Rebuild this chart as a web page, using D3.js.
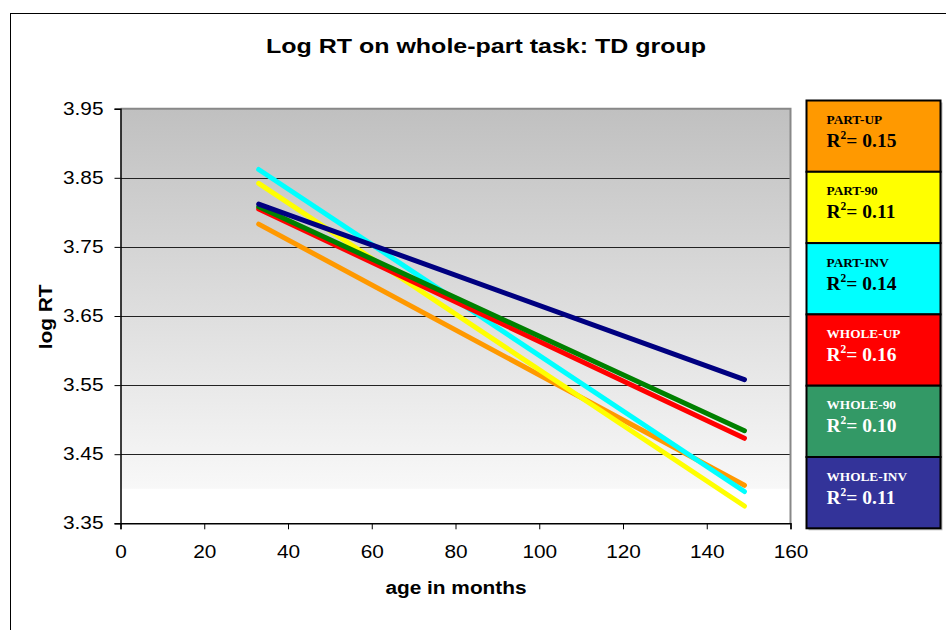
<!DOCTYPE html>
<html><head><meta charset="utf-8">
<script src="https://cdn.jsdelivr.net/npm/d3@7/dist/d3.min.js"></script>
<style>body{margin:0;background:#fff}svg{display:block}</style>
</head><body><svg id="c" width="946" height="630"></svg>
<script>
const seriesNames = ["PART-UP","PART-90","PART-INV","WHOLE-UP","WHOLE-90","WHOLE-INV"];
const r2Labels = ["0.15","0.11","0.14","0.16","0.10","0.11"];
const ageX = [33, 149];
const partUp = [3.783, 3.405];
const part90 = [3.842, 3.375];
const partInv = [3.862, 3.396];
const wholeUp = [3.805, 3.473];
const whole90 = [3.808, 3.484];
const wholeInv = [3.812, 3.558];
const lineColors = ["#FF9900","#FFFF00","#00FFFF","#FF0000","#008000","#000080"];
const legendColors = ["#FF9900","#FFFF00","#00FFFF","#FF0000","#339966","#333399"];
const legendText = ["#000","#000","#000","#fff","#fff","#fff"];
const xTicks = [0,20,40,60,80,100,120,140,160];
const yTicks = [3.35,3.45,3.55,3.65,3.75,3.85,3.95];
const seriesValues = [partUp, part90, partInv, wholeUp, whole90, wholeInv];

const svg = d3.select("#c");
const L=120.5, R=790.5, T=108.7, B=523.3;
const x = d3.scaleLinear().domain([0,160]).range([L,R]);
const y = d3.scaleLinear().domain([3.35,3.95]).range([B,T]);
const K = 1.19; // horizontal stretch of the original rendering

function stretch(sel){
  sel.each(function(){
    const w = this.getComputedTextLength();
    d3.select(this).attr("textLength", w*K).attr("lengthAdjust","spacingAndGlyphs");
  });
}

// outer border
svg.append("rect").attr("x",10.5).attr("y",13.5).attr("width",1000).attr("height",700)
  .attr("fill","none").attr("stroke","#000").attr("stroke-width",1);

// gradient
const defs = svg.append("defs");
const g = defs.append("linearGradient").attr("id","bg").attr("x1",0).attr("y1",0).attr("x2",0).attr("y2",1);
g.append("stop").attr("offset","0%").attr("stop-color","#c0c0c0");
g.append("stop").attr("offset","100%").attr("stop-color","#f8f8f8");
svg.append("rect").attr("x",L).attr("y",T).attr("width",R-L).attr("height",B-T).attr("fill","#fff");
svg.append("rect").attr("x",L).attr("y",T).attr("width",R-L).attr("height",y(3.40)-T).attr("fill","url(#bg)");

// gridlines
svg.append("g").selectAll("line").data(yTicks.filter(v=>v>3.36 && v<3.94)).join("line")
  .attr("x1",L).attr("x2",R).attr("y1",d=>Math.round(y(d))+0.5).attr("y2",d=>Math.round(y(d))+0.5)
  .attr("stroke","#222").attr("stroke-width",1.2);

// plot border top/right
svg.append("path").attr("d",`M${L},${T}H${R}V${B}`).attr("fill","none").attr("stroke","#888").attr("stroke-width",2);

// axes
const fontAx = "'Liberation Sans', Arial, sans-serif";
const yAxis = svg.append("g").attr("transform",`translate(${L},0)`)
  .call(d3.axisLeft(y).tickValues(yTicks).tickFormat(d3.format(".2f")).tickSizeOuter(0).tickSize(6).tickPadding(11));
const xAxis = svg.append("g").attr("transform",`translate(0,${B})`)
  .call(d3.axisBottom(x).tickValues(xTicks).tickFormat(d3.format("d")).tickSizeOuter(0).tickSize(6).tickPadding(13));
[yAxis,xAxis].forEach(a=>{
  a.selectAll("text").attr("font-family",fontAx).attr("font-size",17.5).attr("fill","#000");
  a.selectAll("line").attr("stroke","#000");
  a.select(".domain").attr("stroke","#000").attr("stroke-width",1.5);
});
xAxis.selectAll("text").attr("dy","0.9em");
stretch(yAxis.selectAll("text"));
stretch(xAxis.selectAll("text"));

// lines
const lineGen = d3.line().x(d=>x(d[0])).y(d=>y(d[1]));
seriesValues.forEach((vals,i)=>{
  svg.append("path").datum(ageX.map((a,j)=>[a,vals[j]])).attr("d",lineGen)
    .attr("fill","none").attr("stroke",lineColors[i]).attr("stroke-width",5).attr("stroke-linecap","round");
});

// titles
stretch(svg.append("text").attr("x",486).attr("y",53).attr("text-anchor","middle")
  .attr("font-family",fontAx).attr("font-weight","bold").attr("font-size",21).text("Log RT on whole-part task: TD group"));
stretch(svg.append("text").attr("x",456).attr("y",594).attr("text-anchor","middle")
  .attr("font-family",fontAx).attr("font-weight","bold").attr("font-size",17.5).text("age in months"));
stretch(svg.append("text").attr("transform","translate(52,317) rotate(-90)").attr("text-anchor","middle")
  .attr("font-family",fontAx).attr("font-weight","bold").attr("font-size",17.5).text("log RT"));

// legend
const lx=806.5, ly=100.5, lw=134, lh=71.3;
const leg = svg.append("g");
leg.append("rect").attr("x",lx+2).attr("y",ly+2).attr("width",lw).attr("height",lh*6).attr("fill","#bbb");
seriesNames.forEach((n,i)=>{
  const gy = ly + i*lh;
  leg.append("rect").attr("x",lx).attr("y",gy).attr("width",lw).attr("height",lh)
    .attr("fill",legendColors[i]).attr("stroke","#000").attr("stroke-width",2);
  leg.append("text").attr("x",lx+20).attr("y",gy+23.5).attr("font-family","'Liberation Serif','Times New Roman',serif")
    .attr("font-weight","bold").attr("font-size",13.3).attr("fill",legendText[i]).text(n);
  const t = leg.append("text").attr("x",lx+20).attr("y",gy+46.5).attr("font-family","'Liberation Serif','Times New Roman',serif")
    .attr("font-weight","bold").attr("font-size",19.5).attr("fill",legendText[i]);
  t.append("tspan").text("R");
  t.append("tspan").attr("font-size",11.5).attr("dy",-8).text("2");
  t.append("tspan").attr("dy",8).text("= " + r2Labels[i]);
});
</script></body></html>
